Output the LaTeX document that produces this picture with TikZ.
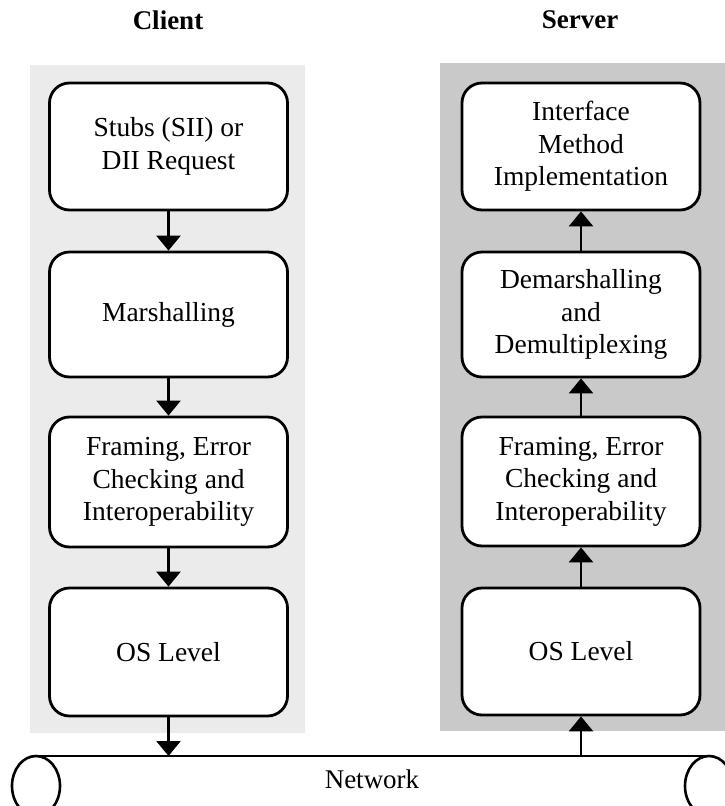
\documentclass[tikz,border=0pt]{standalone}
\usepackage{fontspec}
\setmainfont{Liberation Serif}
\usetikzlibrary{arrows.meta}
\begin{document}
\begin{tikzpicture}[x=1pt,y=-1pt,
  layerbox/.style={draw, line width=2.8pt, rounded corners=20pt, fill=white, align=center,
    minimum width=238pt, inner sep=0pt, font=\fontsize{27.5}{32.5}\selectfont},
  flow/.style={line width=2.6pt, -{Triangle[width=24pt,length=15pt]}},
  title/.style={font=\fontsize{27}{32}\selectfont\bfseries},
  clientbg/.style={fill=black!8},
  serverbg/.style={fill=black!21},
  pipe/.style={line width=2.6pt}
]
\useasboundingbox (0,0) rectangle (725,806);
\clip (0,0) rectangle (725,806);

% backgrounds
\fill[clientbg] (30,65) rectangle (305,733);
\fill[serverbg] (440,63) rectangle (725,731);

% titles
\node[title] (tc) at (168,20) {Client};
\node[title] (ts) at (580,20) {Server};

% client stack
\node[layerbox, minimum height=127pt] (c1) at (168.5,146.5) {Stubs (SII) or\\DII Request};
\node[layerbox, minimum height=125pt] (c2) at (168.5,314.5) {Marshalling};
\node[layerbox, minimum height=130pt] (c3) at (168.5,482) {Framing, Error\\Checking and\\Interoperability};
\node[layerbox, minimum height=128pt] (c4) at (168.5,652) {OS Level};

% server stack
\node[layerbox, minimum height=127pt] (s1) at (581,146.5) {Interface\\Method\\Implementation};
\node[layerbox, minimum height=125pt] (s2) at (581,314.5) {Demarshalling\\and\\Demultiplexing};
\node[layerbox, minimum height=129pt] (s3) at (581,481.5) {Framing, Error\\Checking and\\Interoperability};
\node[layerbox, minimum height=127pt] (s4) at (581,651.5) {OS Level};

% network pipe
\coordinate (netL) at (36,756);
\coordinate (netR) at (709,756);
\draw[pipe] (netL) -- (netR);
\draw[pipe] (36,786) ellipse [x radius=24, y radius=30];
\draw[pipe] (709,786) ellipse [x radius=24, y radius=30];
\node[font=\fontsize{27}{32}\selectfont] (net) at (372,779) {Network};

% client arrows
\draw[flow] (c1.south) -- (c2.north);
\draw[flow] (c2.south) -- (c3.north);
\draw[flow] (c3.south) -- (c4.north);
\coordinate (cin) at (c4.south |- netL);
\draw[flow] (c4.south) -- (cin);

% server arrows
\coordinate (sout) at (s4.south |- netL);
\draw[flow] (sout) -- (s4.south);
\draw[flow] (s4.north) -- (s3.south);
\draw[flow] (s3.north) -- (s2.south);
\draw[flow] (s2.north) -- (s1.south);
\end{tikzpicture}
\end{document}
